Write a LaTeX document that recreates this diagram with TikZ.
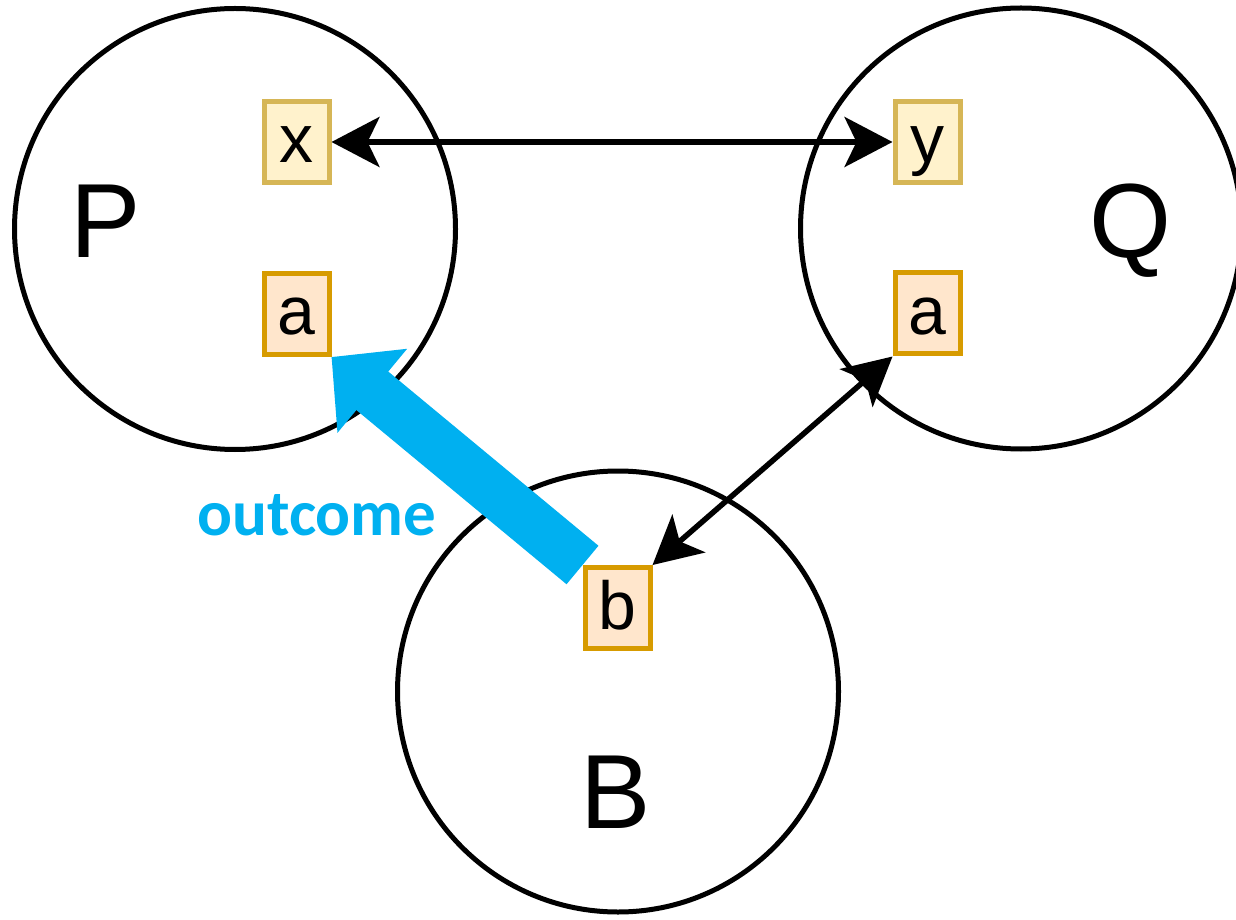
\documentclass[tikz,border=0pt]{standalone}
\usepackage{fontspec}
\setmainfont{Liberation Sans}
\newfontfamily\labelfont{Carlito}
\usepackage{xcolor}
\usepackage{tikz}
\usetikzlibrary{arrows.meta, positioning}
\definecolor{varfill}{HTML}{FFF2CC}
\definecolor{vardraw}{HTML}{D6B656}
\definecolor{portfill}{HTML}{FFE6CC}
\definecolor{portdraw}{HTML}{D79B00}
\definecolor{outcomeblue}{HTML}{00B0F0}

\tikzset{
    party/.style={draw, circle, line width=0.1cm, minimum size=8.82cm, inner sep=0pt},
    cell/.style={draw, rectangle, line width=0.1cm, minimum width=1.30cm, minimum height=1.62cm,
        inner sep=0pt, font=\fontsize{38.7}{40}\selectfont, text height=1.02cm, text depth=0.18cm},
    varcell/.style={cell, fill=varfill, draw=vardraw},
    portcell/.style={cell, fill=portfill, draw=portdraw},
    bigname/.style={font=\fontsize{60}{62}\selectfont, anchor=base},
    link/.style={line width=0.11cm, {Stealth[length=0.96cm, width=1.0cm, inset=0.24cm]}-{Stealth[length=0.96cm, width=1.0cm, inset=0.24cm]}}
}

\begin{document}
\begin{tikzpicture}
    \useasboundingbox (0,0) rectangle (24.72,-18.4);

    % Parties
    \node[party] (partyP) at (4.70,-4.58) {};
    \node[party] (partyQ) at (20.42,-4.57) {};
    \node[party] (partyB) at (12.36,-13.83) {};

    \node[bigname] (nameP) at (2.12,-5.16) {P};
    \node[bigname] (nameQ) at (22.60,-5.16) {Q};
    \node[bigname] (nameB) at (12.32,-16.56) {B};

    % Variables and ports
    \node[varcell] (x) at (5.93,-2.84) {x};
    \node[portcell] (aP) at (5.93,-6.28) {a};
    \node[varcell] (y) at (18.55,-2.84) {y};
    \node[portcell] (aQ) at (18.55,-6.27) {a};
    \node[portcell] (b) at (12.35,-12.16) {b};

    % Links
    \draw[link] (x.east) -- (y.west);
    \draw[link] (aQ.south west) -- (b.north east);

    % Outcome
    \draw[outcomeblue, line width=1cm, -{Triangle[length=1.06cm, width=2.12cm]}] (b.north west) -- (aP.south east);
    \node[anchor=base, text=outcomeblue, font=\labelfont\bfseries\fontsize{37}{40}\selectfont] (outcome) at (6.34,-10.70) {outcome};

\end{tikzpicture}
\end{document}
